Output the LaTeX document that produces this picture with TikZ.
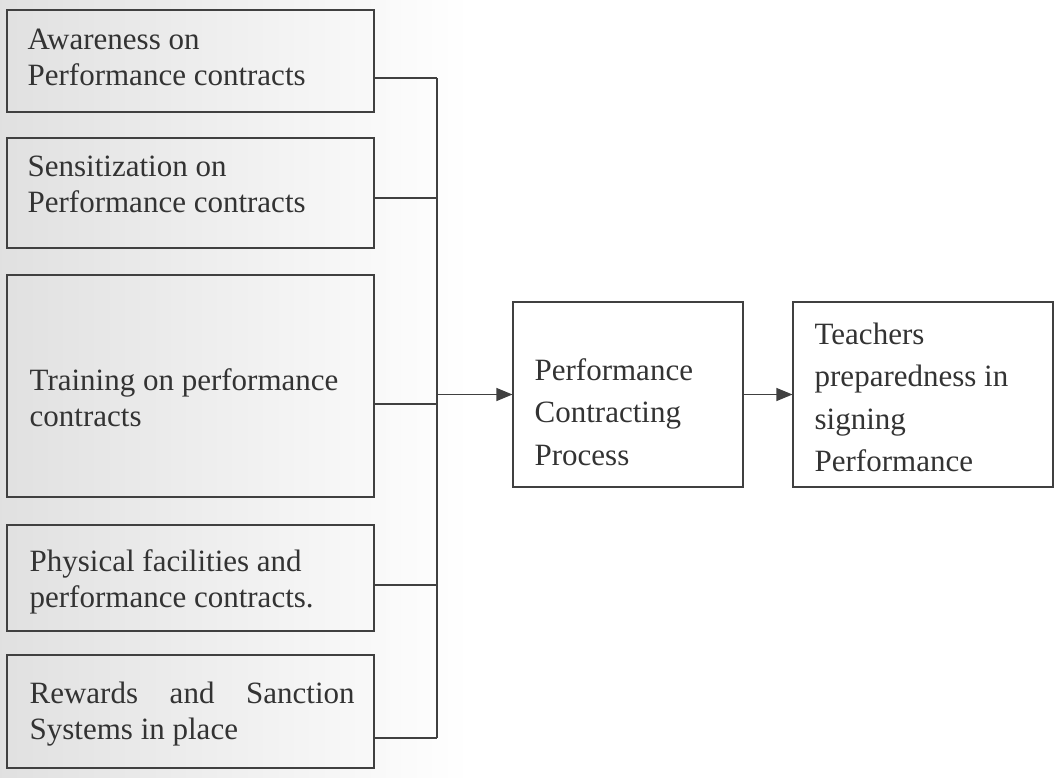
\documentclass[tikz,border=0pt]{standalone}
\usepackage{fontspec}
\setmainfont{Liberation Serif}
\usetikzlibrary{arrows.meta}
\begin{document}
\begin{tikzpicture}[x=1pt,y=-1pt,
  box/.style={draw=black!75,line width=1.1pt,minimum width=367pt},
  txt/.style={align=left,inner sep=0pt,text=black!80,anchor=west,
    font=\fontsize{31}{36}\selectfont},
  wide/.style={txt,font=\fontsize{31}{42.5}\selectfont},
  link/.style={draw=black!75,line width=1.1pt},
  arr/.style={link,-{Triangle[length=16pt,width=13pt]}}]
\useasboundingbox (0,0) rectangle (1059,777);
\shade[left color=black!12,right color=white] (0,0) rectangle (470,777);

\node[box,minimum height=102pt] (aware) at (190.5,61) {};
\node[box,minimum height=110pt] (sensit) at (190.5,193) {};
\node[box,minimum height=222pt] (train) at (190.5,386) {};
\node[box,minimum height=106pt] (facil) at (190.5,578) {};
\node[box,minimum height=113pt] (reward) at (190.5,711.5) {};
\node[box,minimum width=230pt,minimum height=185pt] (pcp) at (628,394.5) {};
\node[box,minimum width=260pt,minimum height=185pt] (teach) at (923,394.5) {};

\node[txt] (awaretxt) at ([xshift=21pt,yshift=4pt]aware.west)
  {Awareness on\\Performance contracts};
\node[txt] (sensittxt) at ([xshift=21pt,yshift=8.5pt]sensit.west)
  {Sensitization on\\Performance contracts};
\node[txt] (traintxt) at ([xshift=23pt,yshift=-12pt]train.west)
  {Training on performance\\contracts};
\node[txt] (faciltxt) at ([xshift=23pt,yshift=-4pt]facil.west)
  {Physical facilities and\\performance contracts.};
\node[txt] (rewardtxt) at ([xshift=23pt,yshift=-2.5pt]reward.west)
  {\makebox[325pt][s]{Rewards and Sanction}\\Systems in place};
\node[wide] (pcptxt) at ([xshift=22pt,yshift=-17.5pt]pcp.west)
  {Performance\\Contracting\\Process};
\node[wide] (teachtxt) at ([xshift=22pt,yshift=-3pt]teach.west)
  {Teachers\\preparedness in\\signing\\Performance};

\coordinate (bustop) at (437,78);
\coordinate (busbot) at (437,738);
\draw[link] (bustop) -- (busbot);
\draw[link] (aware.east |- bustop) -- (bustop);
\draw[link] ([yshift=-5pt]sensit.east) -- ([yshift=-5pt]sensit.east -| bustop);
\draw[link] ([yshift=-18pt]train.east) -- ([yshift=-18pt]train.east -| bustop);
\draw[link] ([yshift=-7pt]facil.east) -- ([yshift=-7pt]facil.east -| bustop);
\draw[link] (reward.east |- busbot) -- (busbot);
\draw[arr] (pcp.west -| bustop) -- (pcp.west);
\draw[arr] (pcp.east) -- (teach.west);
\end{tikzpicture}
\end{document}
